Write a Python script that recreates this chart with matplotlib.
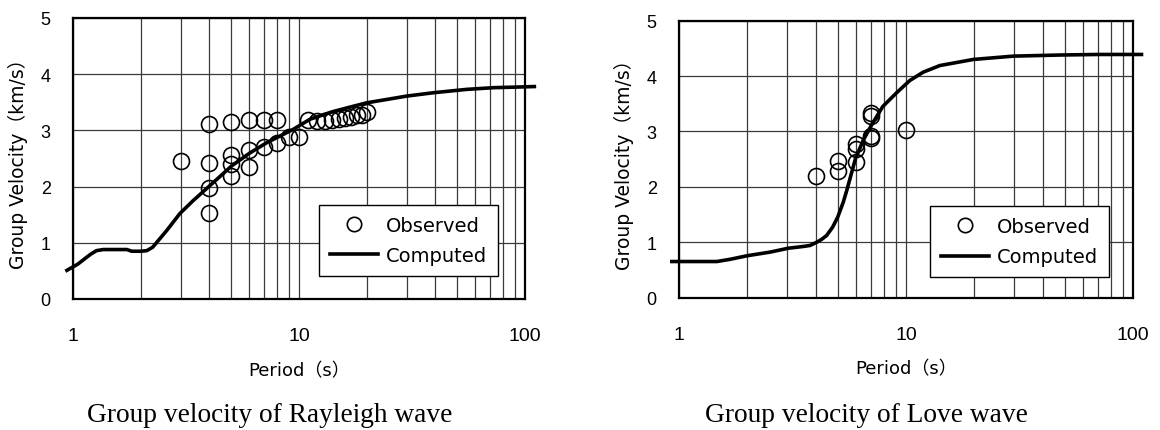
import matplotlib
matplotlib.use("Agg")
import matplotlib.pyplot as plt
from matplotlib.ticker import FixedLocator, NullFormatter, FixedFormatter

# ---------------- data ----------------
# Rayleigh wave
ray_obs_period = [3, 4, 4, 4, 4, 5, 5, 5, 5, 6, 6, 6, 7, 7, 8, 8, 9, 10,
                  11, 12, 13, 14, 15, 16, 17, 18, 19, 20]
ray_obs_vel = [2.46, 3.12, 2.42, 1.98, 1.53, 3.15, 2.56, 2.40, 2.18, 3.18, 2.65, 2.35,
               3.18, 2.71, 3.18, 2.77, 2.88, 2.88,
               3.18, 3.17, 3.17, 3.18, 3.21, 3.22, 3.24, 3.27, 3.28, 3.33]
ray_cmp_period = [0.94, 1.05, 1.13, 1.20, 1.27, 1.36, 1.50, 1.73, 1.82, 2.00, 2.12,
                  2.25, 2.35, 2.60, 2.97, 3.40, 4.04, 5.04, 6.07, 7.19, 9.44, 11.2,
                  14.0, 17.4, 19.9, 29.9, 39.3, 55.2, 72.4, 90.0, 110.0]
ray_cmp_vel = [0.51, 0.62, 0.72, 0.80, 0.86, 0.88, 0.88, 0.88, 0.85, 0.85, 0.86,
               0.92, 1.01, 1.22, 1.52, 1.75, 2.02, 2.37, 2.60, 2.78, 3.02, 3.20,
               3.33, 3.43, 3.49, 3.61, 3.67, 3.73, 3.76, 3.77, 3.78]

# Love wave
love_obs_period = [4, 5, 5, 6, 6, 6, 7, 7, 7, 7, 10]
love_obs_vel = [2.19, 2.47, 2.29, 2.77, 2.69, 2.45, 3.33, 3.27, 2.92, 2.89, 3.03]
love_cmp_period = [0.93, 1.20, 1.47, 1.68, 2.0, 2.52, 3.03, 3.5, 3.78, 4.05, 4.25,
                   4.47, 4.75, 5.0, 5.29, 5.48, 6.0, 6.5, 7.06, 7.9, 9.1, 10.4,
                   11.9, 14.1, 19.8, 29.7, 47.7, 70.0, 109.0]
love_cmp_vel = [0.65, 0.65, 0.65, 0.69, 0.755, 0.82, 0.89, 0.92, 0.94, 1.0, 1.05,
                1.12, 1.27, 1.45, 1.72, 1.93, 2.52, 2.85, 3.12, 3.45, 3.70, 3.92,
                4.07, 4.19, 4.30, 4.36, 4.38, 4.39, 4.39]

x_tick_vals = [1, 10, 100]
x_tick_labels = ["1", "10", "100"]
y_tick_vals = [0, 1, 2, 3, 4, 5]
titles = ["Group velocity of Rayleigh wave", "Group velocity of Love wave"]
xlabel = "Period（s）"
ylabel = "Group Velocity（km/s）"
legend_labels = ["Observed", "Computed"]

# ---------------- figure ----------------
fig = plt.figure(figsize=(11.6, 4.31), dpi=100)
label_family = ["DejaVu Sans", "Noto Sans CJK JP"]

axes_pos = [[73 / 1160, 131 / 431, 452 / 1160, 281 / 431],
            [679 / 1160, 132.5 / 431, 454 / 1160, 276.8 / 431]]
legend_anchor = [(0.940, 0.082), (0.947, 0.074)]
title_x = [270 / 1160, 866 / 1160]

datasets = [(ray_obs_period, ray_obs_vel, ray_cmp_period, ray_cmp_vel),
            (love_obs_period, love_obs_vel, love_cmp_period, love_cmp_vel)]

minor = [v * d for d in (1, 10) for v in range(2, 10)]

for i, (op, ov, cp, cv) in enumerate(datasets):
    ax = fig.add_axes(axes_pos[i])
    ax.set_xscale("log")
    ax.set_xlim(1, 100)
    ax.set_ylim(0, 5)
    ax.xaxis.set_major_locator(FixedLocator(x_tick_vals))
    ax.xaxis.set_major_formatter(FixedFormatter(x_tick_labels))
    ax.xaxis.set_minor_locator(FixedLocator(minor))
    ax.xaxis.set_minor_formatter(NullFormatter())
    ax.yaxis.set_major_locator(FixedLocator(y_tick_vals))
    ax.grid(True, which="both", axis="x", color="#3a3a3a", lw=0.9)
    ax.grid(True, which="major", axis="y", color="#3a3a3a", lw=0.9)
    ax.set_axisbelow(True)
    ax.tick_params(which="both", length=0)
    ax.tick_params(axis="x", pad=20.5, labelsize=14)
    ax.tick_params(axis="y", pad=16, labelsize=13)
    for lab in ax.get_xticklabels() + ax.get_yticklabels():
        lab.set_fontfamily("Liberation Sans")
    for sp in ax.spines.values():
        sp.set_linewidth(1.6)
        sp.set_color("black")

    ax.plot(op, ov, linestyle="none", marker="o", markersize=11.5,
            markerfacecolor="none", markeredgecolor="black", markeredgewidth=1.2,
            label=legend_labels[0], zorder=3)
    ax.plot(cp, cv, color="black", lw=2.6, label=legend_labels[1],
            clip_on=False, zorder=4)

    ax.set_xlabel(xlabel, fontsize=13, family=label_family, labelpad=12)
    ax.set_ylabel(ylabel, fontsize=13.5, family=label_family, labelpad=9)

    leg = ax.legend(loc="lower right", bbox_to_anchor=legend_anchor[i],
                    fancybox=False, framealpha=1, edgecolor="black",
                    prop={"family": label_family, "size": 14},
                    handlelength=2.5, handletextpad=0.4, borderpad=0.55,
                    labelspacing=0.6, borderaxespad=0, markerscale=0.9)
    leg.get_frame().set_linewidth(1.0)

    fig.text(title_x[i], 9 / 431, titles[i], ha="center", va="baseline",
             fontsize=19.7, family="Liberation Serif")

fig.savefig("out.png", dpi=100)
